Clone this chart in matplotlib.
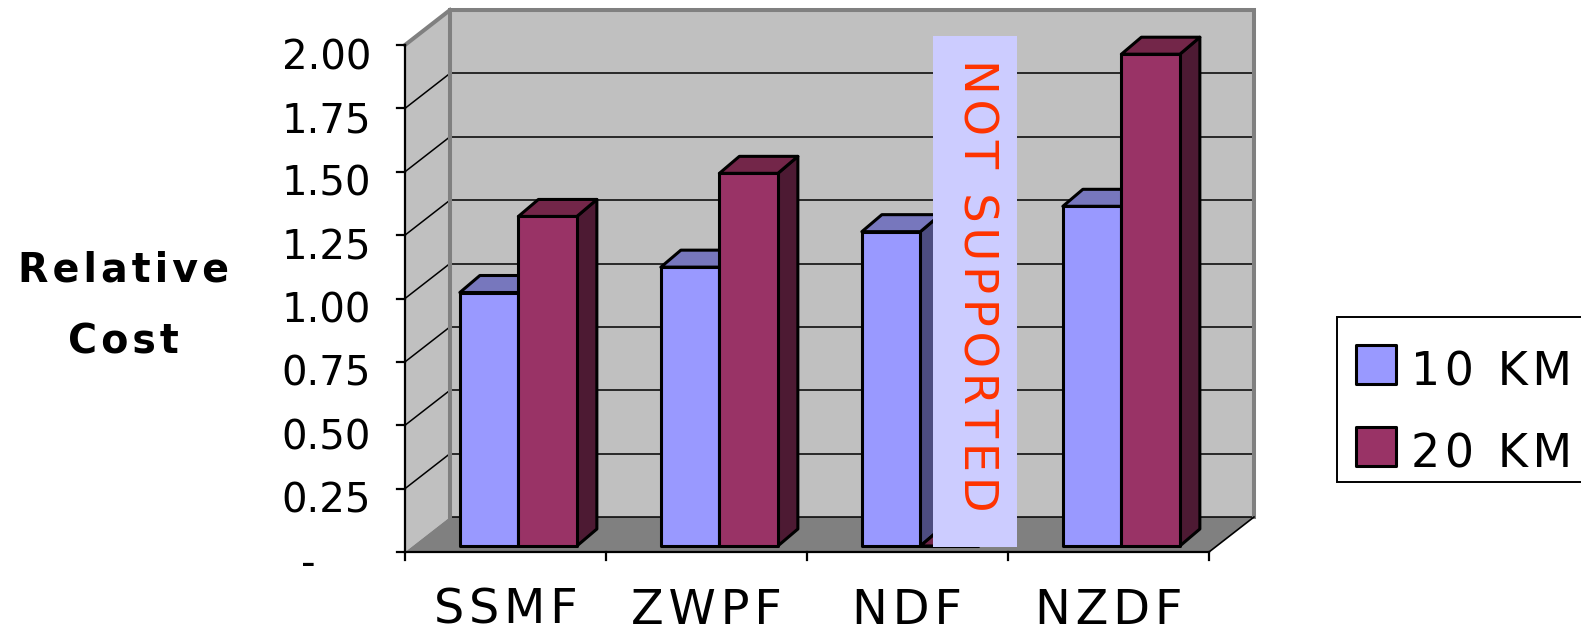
import matplotlib
matplotlib.use("Agg")
import matplotlib.pyplot as plt
from matplotlib.patches import Polygon, Rectangle

# data
categories = ['SSMF', 'ZWPF', 'NDF', 'NZDF']
series_names = ['10 KM', '20 KM']
cost_10km = [1.00, 1.10, 1.24, 1.34]
cost_20km = [1.30, 1.47, 0.00, 1.94]
ytick_values = [0.0, 0.25, 0.50, 0.75, 1.00, 1.25, 1.50, 1.75, 2.00]
ytick_labels = ['-', '0.25', '0.50', '0.75', '1.00', '1.25', '1.50', '1.75', '2.00']
unsupported = 'NDF'

face_colors = ['#9999FF', '#993366']
top_colors = ['#7777BD', '#732649']
side_colors = ['#4D4D80', '#4D1A33']
wall = '#C0C0C0'
floor = '#808080'

plt.rcParams['font.family'] = ['DejaVu Sans']

HAIR = '\u200a'


def spaced(s):
    # the original text is drawn with wide letter spacing
    return HAIR.join(s)


# figure is 1581x634 px; one category = 201 px, one unit = 253.5 px
W, H = 1581, 634
ORG_X, ORG_Y = 405, 552
SX, SY = 201.0, 253.5


def px(xp, yp):
    return (xp - ORG_X) / SX, (ORG_Y - yp) / SY


fig = plt.figure(figsize=(W / 100, H / 100), dpi=100)
ax = fig.add_axes([0, 0, 1, 1])
ax.set_xlim(px(0, 0)[0], px(W, 0)[0])
ax.set_ylim(px(0, H)[1], px(0, 0)[1])
ax.axis('off')

n = len(categories)
ymax = ytick_values[-1]
DX, DY = 45 / SX, 35 / SY  # depth of the chart box


def P(x, y, z):
    return (x + z * DX, y + z * DY)


# walls and floor
ax.add_patch(Polygon([P(0, 0, 0), P(0, ymax, 0), P(0, ymax, 1), P(0, 0, 1)],
                     fc=wall, ec='none', zorder=1))
ax.add_patch(Polygon([P(0, 0, 1), P(n, 0, 1), P(n, ymax, 1), P(0, ymax, 1)],
                     fc=wall, ec='none', zorder=1))
ax.add_patch(Polygon([P(0, 0, 0), P(n, 0, 0), P(n, 0, 1), P(0, 0, 1)],
                     fc=floor, ec='none', zorder=1))

# gridlines
for v in ytick_values[:-1]:
    a, b = P(0, v, 1), P(n, v, 1)
    ax.plot([a[0], b[0]], [a[1], b[1]], color='black', lw=1.1, zorder=2)
    if v > 0:
        a, b = P(0, v, 0), P(0, v, 1)
        ax.plot([a[0], b[0]], [a[1], b[1]], color='black', lw=1.1, zorder=2)

# grey wall borders
pts = [P(0, 0, 1), P(0, ymax, 1), P(n, ymax, 1), P(n, 0, 1)]
ax.plot([p[0] for p in pts], [p[1] for p in pts], color=floor, lw=2.9,
        solid_joinstyle='miter', zorder=2)
a, b = P(0, ymax, 0), P(0, ymax, 1)
ax.plot([a[0], b[0]], [a[1], b[1]], color=floor, lw=2.9, zorder=2)

# bars
BAR_X0, BAR_W = 0.273, 0.291
BASE = 6 / SY
BDX, BDY = 20 / SX, 17 / SY
for i in range(n):
    for s, vals in enumerate([cost_10km, cost_20km]):
        x0 = i + BAR_X0 + s * BAR_W
        x1 = x0 + BAR_W
        y0, y1 = BASE, BASE + vals[i]
        kw = dict(ec='black', lw=2.2, joinstyle='round', zorder=3)
        ax.add_patch(Polygon([(x1, y0), (x1 + BDX, y0 + BDY), (x1 + BDX, y1 + BDY), (x1, y1)],
                             fc=side_colors[s], **kw))
        ax.add_patch(Polygon([(x0, y1), (x1, y1), (x1 + BDX, y1 + BDY), (x0 + BDX, y1 + BDY)],
                             fc=top_colors[s], **kw))
        ax.add_patch(Polygon([(x0, y0), (x1, y0), (x1, y1), (x0, y1)],
                             fc=face_colors[s], **kw))

# front axes
ax.plot([0, 0], [0, ymax], color='black', lw=1.6, zorder=4)
ax.plot([0, n], [0, 0], color='black', lw=1.6, zorder=4)
a, b = P(n, 0, 0), P(n, 0, 1)
ax.plot([a[0], b[0]], [a[1], b[1]], color='black', lw=1.2, zorder=4)
tick_x = 8 / SX
tick_y = 8 / SY
for v, lab in zip(ytick_values, ytick_labels):
    ax.plot([-tick_x, 0], [v, v], color='black', lw=1.6, zorder=4)
    if lab == '-':
        ax.text(px(308, 0)[0], v - 24 / SY, lab, ha='center', va='baseline',
                fontsize=29)
    else:
        ax.text(px(371, 0)[0], v - 24 / SY, lab, ha='right', va='baseline',
                fontsize=29)
for i in range(n + 1):
    ax.plot([i, i], [0, -tick_y], color='black', lw=1.6, zorder=4)
for i, c in enumerate(categories):
    ax.text(i + 0.5, px(0, 624)[1], spaced(c), ha='center', va='baseline',
            fontsize=34.5)

# "not supported" overlay
k = categories.index(unsupported)
bx0, by0 = px(933, 547)
bx1, by1 = px(1017, 36)
ax.add_patch(Rectangle((bx0, by0), bx1 - bx0, by1 - by0, fc='#CCCCFF', ec='none', zorder=5))
ax.text((bx0 + bx1) / 2 + 1 / SX, (by0 + by1) / 2 + 6.5 / SY, spaced('NOT SUPPORTED'),
        rotation=270, ha='center', va='center', color='#FF3300', fontsize=33.5, zorder=6)

# y axis title
tx = px(123, 0)[0]
ax.text(tx, px(0, 282)[1], spaced('Relative'), ha='center', va='baseline',
        fontsize=28.5, fontweight='bold')
ax.text(tx, px(0, 353)[1], spaced('Cost'), ha='center', va='baseline',
        fontsize=28.5, fontweight='bold')

# legend
lx0, ly0 = px(1337, 482)
lx1, ly1 = px(1600, 317)
ax.add_patch(Rectangle((lx0, ly0), lx1 - lx0, ly1 - ly0, fc='white', ec='black', lw=1.4, zorder=5))
for s, name in enumerate(series_names):
    top = 345 + s * 82
    sx0, sy0 = px(1356, top + 39)
    sx1, sy1 = px(1396, top)
    ax.add_patch(Rectangle((sx0, sy0), sx1 - sx0, sy1 - sy0, fc=face_colors[s], ec='black',
                           lw=2.2, joinstyle='round', zorder=6))
    ax.text(px(1411, 0)[0], px(0, top + 40)[1], spaced(name), ha='left', va='baseline',
            fontsize=33, zorder=6)

fig.savefig('out.png', dpi=100)
